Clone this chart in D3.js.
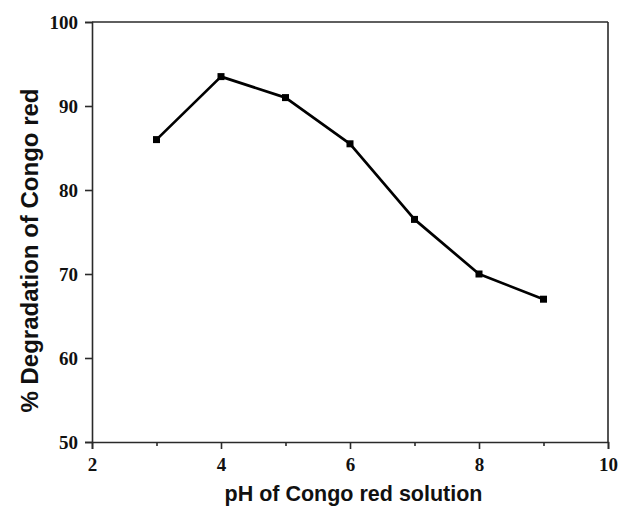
<!DOCTYPE html>
<html>
<head>
<meta charset="utf-8">
<script src="https://cdn.jsdelivr.net/npm/d3@7"></script>
<style>
  html, body { margin: 0; padding: 0; background: #fff; }
  svg { display: block; }
</style>
</head>
<body>
<svg id="chart" width="618" height="506"></svg>
<script>
// pH of the dye solution and the resulting degradation
const phValues = [3, 4, 5, 6, 7, 8, 9];
const degradation = [86.0, 93.5, 91.0, 85.5, 76.5, 70.0, 67.0];

const xMajorTicks = [2, 4, 6, 8, 10];
const xMinorTicks = [3, 5, 7, 9];
const yTicks = [50, 60, 70, 80, 90, 100];

const xTitle = "pH of Congo red solution";
const yTitle = "% Degradation of Congo red";

const W = 618, H = 506;
const margin = { left: 92, right: 10, top: 22, bottom: 64 };
const plotW = W - margin.left - margin.right;
const plotH = H - margin.top - margin.bottom;

const svg = d3.select("#chart");
const g = svg.append("g").attr("transform", `translate(${margin.left},${margin.top})`);

const x = d3.scaleLinear().domain([2, 10]).range([0, plotW]);
const y = d3.scaleLinear().domain([50, 100]).range([plotH, 0]);

const axisColor = "#2a2a2a";
const tickFont = "'Liberation Serif', 'Times New Roman', serif";
const titleFont = "'Liberation Sans', Arial, sans-serif";

// bottom axis: major ticks with labels
g.append("g")
  .attr("transform", `translate(0,${plotH})`)
  .call(d3.axisBottom(x).tickValues(xMajorTicks).tickSize(7).tickPadding(9).tickFormat(d3.format("d")));

// bottom axis: minor ticks
g.append("g")
  .attr("transform", `translate(0,${plotH})`)
  .call(d3.axisBottom(x).tickValues(xMinorTicks).tickSize(4).tickFormat(""))
  .call(a => a.select(".domain").remove());

// left axis
g.append("g")
  .call(d3.axisLeft(y).tickValues(yTicks).tickSize(7).tickPadding(7).tickFormat(d3.format("d")));

g.selectAll(".domain, .tick line")
  .attr("stroke", axisColor)
  .attr("stroke-width", 1.6);

g.selectAll(".tick text")
  .attr("fill", "#111")
  .attr("font-family", tickFont)
  .attr("font-weight", "bold")
  .attr("font-size", 19)
  .style("font-family", tickFont)
  .style("font-weight", "bold")
  .style("font-size", "19px");

// top and right frame lines
g.append("line").attr("x1", 0).attr("x2", plotW).attr("y1", 0).attr("y2", 0)
  .attr("stroke", axisColor).attr("stroke-width", 1.6);
g.append("line").attr("x1", plotW).attr("x2", plotW).attr("y1", 0).attr("y2", plotH)
  .attr("stroke", axisColor).attr("stroke-width", 1.6);

// data line
const pts = phValues.map((p, i) => ({ p, v: degradation[i] }));
g.append("path")
  .datum(pts)
  .attr("fill", "none")
  .attr("stroke", "#000")
  .attr("stroke-width", 2.7)
  .attr("stroke-linejoin", "round")
  .attr("d", d3.line().x(d => x(d.p)).y(d => y(d.v)));

// square markers
const ms = 7;
g.selectAll("rect.marker")
  .data(pts)
  .enter().append("rect")
  .attr("class", "marker")
  .attr("x", d => x(d.p) - ms / 2)
  .attr("y", d => y(d.v) - ms / 2)
  .attr("width", ms)
  .attr("height", ms)
  .attr("fill", "#000");

// axis titles
svg.append("text")
  .attr("x", 353.5)
  .attr("y", 501)
  .attr("text-anchor", "middle")
  .style("font-family", titleFont)
  .style("font-weight", "bold")
  .style("font-size", "21.5px")
  .attr("fill", "#111")
  .text(xTitle);

svg.append("text")
  .attr("transform", "translate(38,250.5) rotate(-90)")
  .attr("text-anchor", "middle")
  .style("font-family", titleFont)
  .style("font-weight", "bold")
  .style("font-size", "24px")
  .attr("fill", "#111")
  .text(yTitle);
</script>
</body>
</html>
